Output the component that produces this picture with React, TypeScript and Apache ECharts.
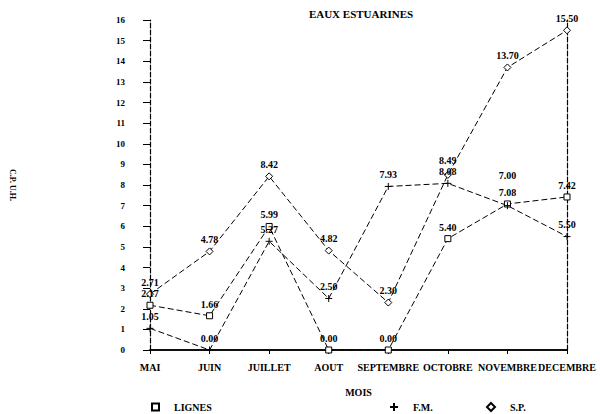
import React, { useEffect, useRef } from "react";
import * as echarts from "echarts";

const mois = ["MAI", "JUIN", "JUILLET", "AOUT", "SEPTEMBRE", "OCTOBRE", "NOVEMBRE", "DECEMBRE"];
const lignes = [2.17, 1.66, 5.99, 0.0, 0.0, 5.4, 7.08, 7.42];
const fm = [1.05, 0.0, 5.27, 2.5, 7.93, 8.08, 7.0, 5.5];
const sp = [2.71, 4.78, 8.42, 4.82, 2.3, 8.49, 13.7, 15.5];

const FONT = "Liberation Serif";
const PLUS = "path://M5 0 L5 10 M0 5 L10 5";

const App: React.FC = () => {
  const chartRef = useRef<HTMLDivElement | null>(null);

  useEffect(() => {
    if (!chartRef.current) return;
    const myChart = echarts.init(chartRef.current, null, { renderer: "svg" });

    const label = {
      show: true,
      position: "top",
      distance: 3,
      color: "#000",
      fontFamily: FONT,
      fontWeight: "bold",
      fontSize: 10,
      formatter: (p: any) => Number(p.value).toFixed(2),
    };
    const mark = { color: "#fff", borderColor: "#000", borderWidth: 1 };
    const line = { color: "#000", width: 1, type: [6, 3] };
    const legendText = { color: "#000", fontFamily: FONT, fontWeight: "bold", fontSize: 10, padding: [0, 0, 0, 10] };
    const axisText = { color: "#000", fontFamily: FONT, fontWeight: "bold", fontSize: 10 };

    // F.M. in NOVEMBRE: label lifted above the LIGNES one, as printed
    const fmData = fm.map((v, i) => (i === 6 ? { value: v, label: { offset: [0, -18] } } : v));
    // S.P. in OCTOBRE: label a little higher than the F.M. one
    const spData = sp.map((v, i) => (i === 5 ? { value: v, label: { offset: [0, -2] } } : v));

    const option = {
      animation: false,
      title: {
        text: "EAUX ESTUARINES",
        left: 356,
        textAlign: "center",
        top: 3,
        textStyle: { ...axisText, fontSize: 11 },
      },
      legend: [
        { left: 146, top: 397, itemWidth: 7, itemHeight: 7, textStyle: legendText, data: [{ name: "LIGNES", icon: "rect" }] },
        { left: 384, top: 397, itemWidth: 8, itemHeight: 8, textStyle: legendText, data: [{ name: "F.M.", icon: PLUS }] },
        { left: 481, top: 397, itemWidth: 8, itemHeight: 8, textStyle: legendText, data: [{ name: "S.P.", icon: "diamond" }] },
      ],
      grid: { left: 145, right: 33, top: 20, bottom: 64 },
      xAxis: [
        {
          type: "category",
          data: mois,
          boundaryGap: false,
          name: "MOIS",
          nameLocation: "middle",
          nameGap: 37,
          nameTextStyle: axisText,
          axisLine: { lineStyle: { color: "#000", width: 1.5 } },
          axisTick: { length: 4, lineStyle: { color: "#000" } },
          axisLabel: { ...axisText, margin: 12, interval: 0 },
        },
        {
          type: "category",
          data: mois,
          boundaryGap: false,
          position: "top",
          axisLine: { lineStyle: { color: "#000", width: 1.5 } },
          axisTick: { show: false },
          axisLabel: { show: false },
        },
      ],
      yAxis: [
        {
          type: "value",
          min: 0,
          max: 16,
          interval: 1,
          name: "C.P. U.H.",
          nameLocation: "middle",
          nameRotate: -90,
          nameGap: 134,
          nameTextStyle: { ...axisText, fontSize: 8 },
          splitLine: { show: false },
          axisLine: { show: true, lineStyle: { color: "#000", width: 1.2, type: [5, 2] } },
          axisTick: { show: true, length: 7, lineStyle: { color: "#000" } },
          axisLabel: { ...axisText, fontSize: 9, margin: 25 },
        },
        {
          type: "value",
          min: 0,
          max: 16,
          interval: 1,
          position: "right",
          splitLine: { show: false },
          axisLine: { show: true, lineStyle: { color: "#000", width: 1.2, type: [5, 2] } },
          axisTick: { show: false },
          axisLabel: { show: false },
        },
      ],
      series: [
        { name: "LIGNES", type: "line", data: lignes, symbol: "rect", symbolSize: 6, itemStyle: mark, lineStyle: line, label },
        { name: "F.M.", type: "line", data: fmData, symbol: PLUS, symbolSize: 7, itemStyle: mark, lineStyle: line, label },
        { name: "S.P.", type: "line", data: spData, symbol: "diamond", symbolSize: 7, itemStyle: mark, lineStyle: line, label },
      ],
    };

    myChart.setOption(option);
    return () => {
      myChart.dispose();
    };
  }, []);

  return (
    <div
      ref={chartRef}
      style={{ position: "fixed", left: 0, top: 0, width: "600px", height: "414px", background: "#fff" }}
    />
  );
};

export default App;
